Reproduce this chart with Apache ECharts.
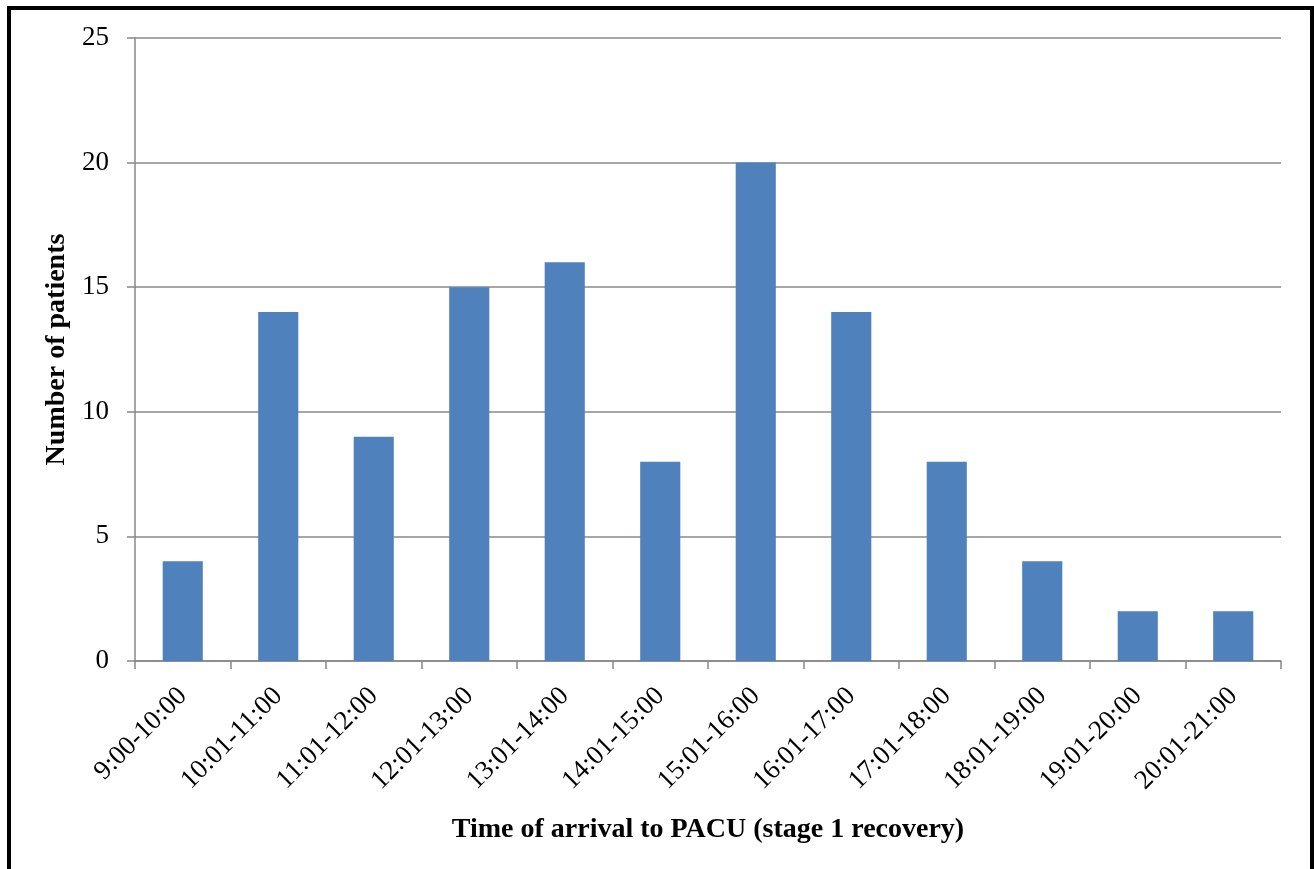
<!DOCTYPE html>
<html><head><meta charset="utf-8">
<script src="https://cdn.jsdelivr.net/npm/echarts@6/dist/echarts.min.js"></script>
<style>
html,body{margin:0;padding:0;background:#fff;}
#frame{position:absolute;left:7px;top:6px;width:1299px;height:880px;border:4px solid #000;box-sizing:content-box;}
#chart{position:absolute;left:0;top:0;width:1314px;height:869px;}
</style></head>
<body>
<div id="frame"></div>
<div id="chart"></div>
<script>
const categories = ['9:00-10:00','10:01-11:00','11:01-12:00','12:01-13:00','13:01-14:00','14:01-15:00','15:01-16:00','16:01-17:00','17:01-18:00','18:01-19:00','19:01-20:00','20:01-21:00'];
const patients = [4,14,9,15,16,8,20,14,8,4,2,2];
const yTicks = [0,5,10,15,20,25];

const font = '"Liberation Serif", "DejaVu Serif", serif';
const chart = echarts.init(document.getElementById('chart'), null, {renderer:'canvas'});
chart.setOption({
  animation:false,
  backgroundColor:'transparent',
  grid:{left:135,right:33,top:38,bottom:208,containLabel:false},
  xAxis:{
    type:'category',
    data:categories,
    boundaryGap:true,
    name:'Time of arrival to PACU (stage 1 recovery)',
    nameLocation:'middle',
    nameGap:155,
    nameTextStyle:{fontFamily:font,fontSize:28,fontWeight:'bold',color:'#000'},
    axisLine:{lineStyle:{color:'#888888',width:1.5}},
    axisTick:{show:true,alignWithLabel:false,length:8,lineStyle:{color:'#888888',width:1.5}},
    axisLabel:{rotate:45,fontFamily:font,fontSize:27,color:'#000',margin:31,interval:0}
  },
  yAxis:{
    type:'value',
    min:yTicks[0],max:yTicks[yTicks.length-1],interval:5,
    name:'Number of patients',
    nameLocation:'middle',
    nameGap:61,
    nameTextStyle:{fontFamily:font,fontSize:28,fontWeight:'bold',color:'#000'},
    axisLine:{show:true,lineStyle:{color:'#888888',width:1.5}},
    axisTick:{show:true,length:8,lineStyle:{color:'#888888',width:1.5}},
    axisLabel:{fontFamily:font,fontSize:27,color:'#000',margin:26},
    splitLine:{show:true,lineStyle:{color:'#888888',width:1.5}}
  },
  series:[{
    type:'bar',
    data:patients,
    barWidth:'42%',
    itemStyle:{color:'#4F81BD'}
  }]
});
</script>
</body></html>
